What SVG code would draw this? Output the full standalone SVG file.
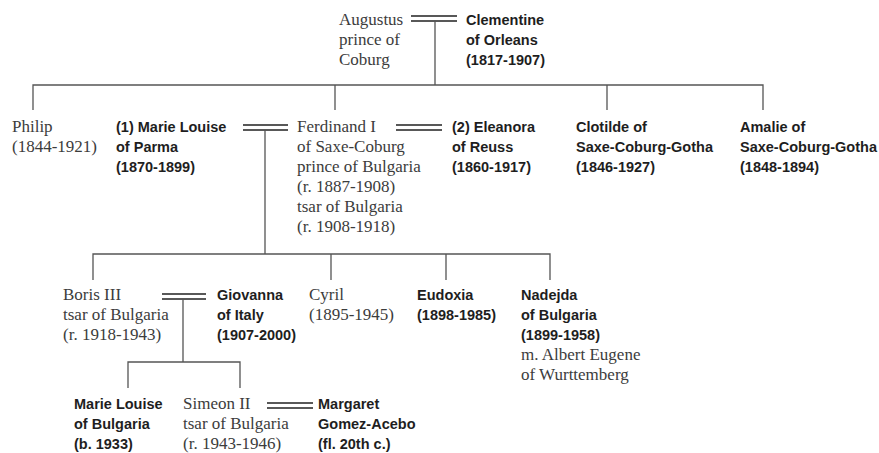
<svg xmlns="http://www.w3.org/2000/svg" width="879" height="453" viewBox="0 0 879 453">
  <style>
    .s { font-family: "Liberation Serif", "Times New Roman", serif; font-size: 17px; fill: #3c3c3c; }
    .b { font-family: "Liberation Sans", Arial, sans-serif; font-size: 14.5px; font-weight: bold; fill: #1e1e1e; }
    .ln { stroke: #555; stroke-width: 1.3; fill: none; }
    .mar { stroke: #222; stroke-width: 1.6; fill: none; }
  </style>
  <rect width="879" height="453" fill="#fff"/>

  <g id="connectors">
    <!-- marriage bars -->
    <path class="mar" d="M411 16H457M411 21H457"/>
    <path class="mar" d="M243 125H288M243 130H288"/>
    <path class="mar" d="M396 125H442M396 130H442"/>
    <path class="mar" d="M162 294H206M162 299H206"/>
    <path class="mar" d="M267 403H313M267 408H313"/>
    <!-- descent lines -->
    <path class="ln" d="M435 21V85M33 110V85H763V110M335 85V110M607 85V110"/>
    <path class="ln" d="M265 130V254M93 280V254H550V280M331 254V280M446 254V280"/>
    <path class="ln" d="M183 299V362M128 388V362H240V388"/>
  </g>

  <g id="augustus"><text class="s" x="339" y="25">Augustus<tspan x="339" dy="20">prince of</tspan><tspan x="339" dy="20">Coburg</tspan></text></g>
  <g id="clementine"><text class="b" x="466" y="25">Clementine<tspan x="466" dy="20">of Orleans</tspan><tspan x="466" dy="20">(1817-1907)</tspan></text></g>

  <g id="philip"><text class="s" x="12" y="132">Philip<tspan x="12" dy="20">(1844-1921)</tspan></text></g>
  <g id="marie-louise-parma"><text class="b" x="116" y="132">(1) Marie Louise<tspan x="116" dy="20">of Parma</tspan><tspan x="116" dy="20">(1870-1899)</tspan></text></g>
  <g id="ferdinand"><text class="s" x="297" y="132">Ferdinand I<tspan x="297" dy="20">of Saxe-Coburg</tspan><tspan x="297" dy="20">prince of Bulgaria</tspan><tspan x="297" dy="20">(r. 1887-1908)</tspan><tspan x="297" dy="20">tsar of Bulgaria</tspan><tspan x="297" dy="20">(r. 1908-1918)</tspan></text></g>
  <g id="eleanora"><text class="b" x="452" y="132">(2) Eleanora<tspan x="452" dy="20">of Reuss</tspan><tspan x="452" dy="20">(1860-1917)</tspan></text></g>
  <g id="clotilde"><text class="b" x="576" y="132">Clotilde of<tspan x="576" dy="20">Saxe-Coburg-Gotha</tspan><tspan x="576" dy="20">(1846-1927)</tspan></text></g>
  <g id="amalie"><text class="b" x="740" y="132">Amalie of<tspan x="740" dy="20">Saxe-Coburg-Gotha</tspan><tspan x="740" dy="20">(1848-1894)</tspan></text></g>

  <g id="boris"><text class="s" x="63" y="300">Boris III<tspan x="63" dy="20">tsar of Bulgaria</tspan><tspan x="63" dy="20">(r. 1918-1943)</tspan></text></g>
  <g id="giovanna"><text class="b" x="217" y="300">Giovanna<tspan x="217" dy="20">of Italy</tspan><tspan x="217" dy="20">(1907-2000)</tspan></text></g>
  <g id="cyril"><text class="s" x="309" y="300">Cyril<tspan x="309" dy="20">(1895-1945)</tspan></text></g>
  <g id="eudoxia"><text class="b" x="417" y="300">Eudoxia<tspan x="417" dy="20">(1898-1985)</tspan></text></g>
  <g id="nadejda"><text class="b" x="521" y="300">Nadejda<tspan x="521" dy="20">of Bulgaria</tspan><tspan x="521" dy="20">(1899-1958)</tspan></text><text class="s" x="521" y="360">m. Albert Eugene<tspan x="521" dy="20">of Wurttemberg</tspan></text></g>

  <g id="marie-louise-bulgaria"><text class="b" x="74" y="409">Marie Louise<tspan x="74" dy="20">of Bulgaria</tspan><tspan x="74" dy="20">(b. 1933)</tspan></text></g>
  <g id="simeon"><text class="s" x="183" y="409">Simeon II<tspan x="183" dy="20">tsar of Bulgaria</tspan><tspan x="183" dy="20">(r. 1943-1946)</tspan></text></g>
  <g id="margaret"><text class="b" x="318" y="409">Margaret<tspan x="318" dy="20">Gomez-Acebo</tspan><tspan x="318" dy="20">(fl. 20th c.)</tspan></text></g>
</svg>
